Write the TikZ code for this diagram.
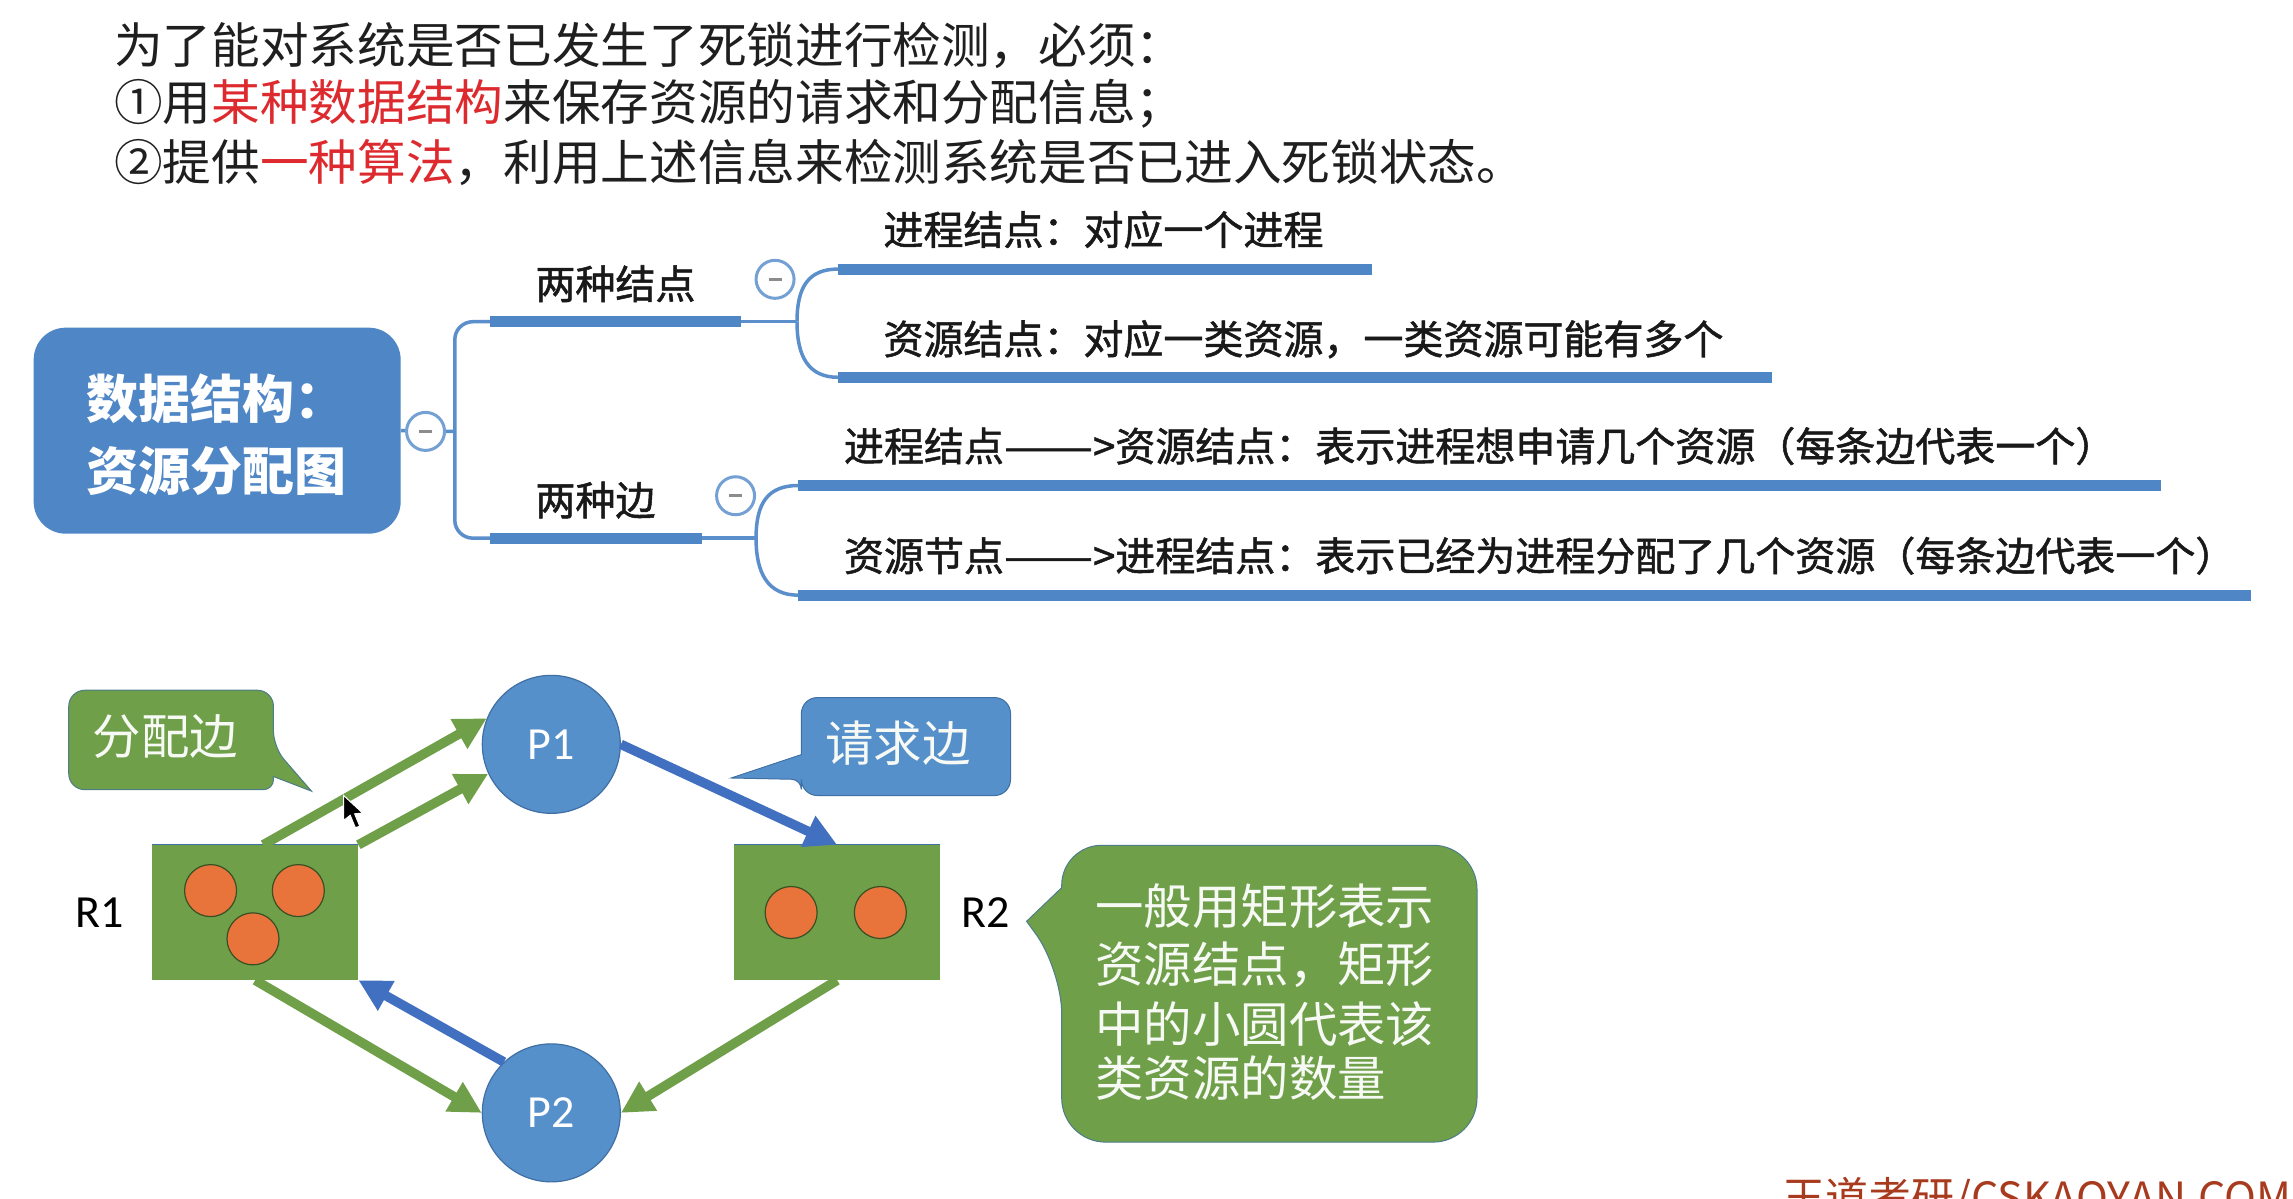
\documentclass[tikz,border=0pt]{standalone}
\usepackage{fontspec}
\usepackage{graphicx}
\usetikzlibrary{arrows.meta}
\setmainfont{Noto Sans CJK SC}
\newfontfamily\medcjk[FakeBold=1.3]{Noto Sans CJK SC}
\newfontfamily\latfont{Carlito}
\definecolor{mapblue}{HTML}{4F86C6}
\definecolor{thinblue}{HTML}{5B8FCC}
\definecolor{grn}{HTML}{6F9F48}
\definecolor{circblue}{HTML}{5590CB}
\definecolor{circedge}{HTML}{3F6FA3}
\definecolor{arrblue}{HTML}{4270C0}
\definecolor{org}{HTML}{E8743B}
\definecolor{txtred}{HTML}{DD2A2E}
\definecolor{wm}{HTML}{A83A1E}
\newcommand{\longdash}{\scalebox{1.33}[1]{——}}
\tikzset{
  topline/.style={anchor=west,inner sep=0pt,text=black!88,font=\fontsize{48.65}{56}\selectfont},
  maptext/.style={anchor=west,inner sep=0pt,text=black!90,font=\medcjk\fontsize{40}{48}\selectfont},
  rootbox/.style={draw=none,fill=mapblue,rounded corners=32pt,minimum width=367pt,minimum height=206pt,inner sep=0pt},
  roottext/.style={anchor=west,inner sep=0pt,text=white,font=\bfseries\fontsize{52}{60}\selectfont},
  under/.style={draw=mapblue,line width=11pt},
  thinline/.style={draw=thinblue,line width=3.5pt},
  togglemark/.style={circle,draw=thinblue!85,fill=white,line width=3pt,minimum size=38pt,inner sep=0pt,text=black!45},
  procnode/.style={circle,fill=circblue,draw=circedge,line width=1.2pt,minimum size=138pt,inner sep=0pt,text=white,font=\latfont\fontsize{46}{50}\selectfont},
  resbox/.style={rectangle,fill=grn,draw=none,minimum width=206pt,minimum height=135pt,inner sep=0pt},
  unitdot/.style={circle,fill=org,draw=black!50!grn,line width=1.2pt,minimum size=52pt,inner sep=0pt},
  reslabel/.style={inner sep=0pt,text=black,font=\latfont\fontsize{46}{50}\selectfont},
  greenarrow/.style={draw=grn,line width=9.5pt,-{Triangle[length=32pt,width=32pt,fill=grn]}},
  bluearrow/.style={draw=arrblue,line width=9.5pt,-{Triangle[length=32pt,width=32pt,fill=arrblue]}},
  callgreen/.style={fill=grn,draw=circedge!70!grn,line width=1pt},
  callblue/.style={fill=circblue,draw=circedge,line width=1pt},
  calltext/.style={inner sep=0pt,text=white!94!grn,font=\fontsize{48.4}{56}\selectfont},
}
\begin{document}
\begin{tikzpicture}[x=1.4624pt,y=-1.4624pt]
\clip (0,0) rectangle (1568,819.9);
\fill[white] (0,0) rectangle (1568,819.9);
% top text
\node[topline] (t1) at (78,31) {为了能对系统是否已发生了死锁进行检测，必须：};
\node[topline] (t2) at (78,71) {①用\textcolor{txtred}{某种数据结构}来保存资源的请求和分配信息；};
\node[topline] (t3) at (78,111) {②提供\textcolor{txtred}{一种算法}，利用上述信息来检测系统是否已进入死锁状态。};
% mind map
\coordinate (a1) at (335,220); \coordinate (b1) at (507,220);
\coordinate (a2) at (335,368); \coordinate (b2) at (480,368);
\coordinate (j1) at (545,220); \coordinate (j2) at (517,368);
\coordinate (u1) at (573,184); \coordinate (v1) at (938,184);
\coordinate (u2) at (573,258); \coordinate (v2) at (1212,258);
\coordinate (u3) at (546,332); \coordinate (v3) at (1478,332);
\coordinate (u4) at (546,407); \coordinate (v4) at (1539,407);
\coordinate (bend1) at (311,220); \coordinate (bend2) at (311,368); \coordinate (mid) at (311,295);
\node[rootbox] (root) at (148.5,294.5) {};
\node[roottext] (rt1) at (59,273) {数据结构：};
\node[roottext] (rt2) at (59,322) {资源分配图};
\draw[thinline,rounded corners=18pt] (a1) -- (bend1) -- (bend2) -- (a2);
\draw[thinline] (root.east) -- (mid);
\draw[under] (a1) -- (b1);
\draw[under] (a2) -- (b2);
\draw[thinline] (b1) -- (j1);
\draw[thinline] (b2) -- (j2);
\draw[thinline] (j1) .. controls (545,196) and (553,184) .. (u1);
\draw[thinline] (j1) .. controls (545,244) and (553,258) .. (u2);
\draw[thinline] (j2) .. controls (517,344) and (525,332) .. (u3);
\draw[thinline] (j2) .. controls (517,392) and (525,407) .. (u4);
\draw[under] (u1) -- (v1);
\draw[under] (u2) -- (v2);
\draw[under] (u3) -- (v3);
\draw[under] (u4) -- (v4);
\node[togglemark] (m0) at (291,295) {\rule{13pt}{3.5pt}};
\node[togglemark] (m1) at (530,191) {\rule{13pt}{3.5pt}};
\node[togglemark] (m2) at (503,339) {\rule{13pt}{3.5pt}};
\node[maptext] (k1) at (366,194) {两种结点};
\node[maptext] (k2) at (366,342) {两种边};
\node[maptext] (l1) at (604,157) {进程结点：对应一个进程};
\node[maptext] (l2) at (604,232) {资源结点：对应一类资源，一类资源可能有多个};
\node[maptext] (l3) at (577,305) {进程结点\longdash>资源结点：表示进程想申请几个资源（每条边代表一个）};
\node[maptext] (l4) at (577,380) {资源节点\longdash>进程结点：表示已经为进程分配了几个资源（每条边代表一个）};
% graph
\node[procnode] (P1) at (377,509) {P1};
\node[procnode] (P2) at (377,761) {P2};
\node[resbox] (R1) at (174.5,624) {};
\node[resbox] (R2) at (572.5,624) {};
\draw[circedge,line width=1pt] (R1.north west) -- (R1.north east);
\draw[circedge,line width=1pt] (R2.north west) -- (R2.north east);
\draw[greenarrow] ([xshift=8pt]R1.north) -- (P1.158);
\draw[greenarrow] (R1.north east) -- (P1.205);
\draw[bluearrow] (P1.east) -- (R2.north);
\draw[bluearrow] (P2.133) -- (R1.south east);
\draw[greenarrow] (R1.south) -- (P2.west);
\draw[greenarrow] (R2.south) -- (P2.east);
\node[unitdot] (d1) at (144,609) {};
\node[unitdot] (d2) at (204,609) {};
\node[unitdot] (d3) at (173,642) {};
\node[unitdot] (d4) at (541,624) {};
\node[unitdot] (d5) at (602,624) {};
\node[reslabel] (R1t) at (68,624) {R1};
\node[reslabel] (R2t) at (674,624) {R2};
% callouts
\draw[callgreen,rounded corners=16pt] (100,472) -- (187,472) -- (187,511) [sharp corners] -- (213,541) -- (187,531) [rounded corners=10pt] -- (187,540) [rounded corners=16pt] -- (47,540) -- (47,472) -- cycle;
\node[calltext] (c1) at (113,504) {分配边};
\draw[callblue,rounded corners=16pt] (620,477) -- (691,477) -- (691,544) -- (548,544) [rounded corners=10pt] -- (548,533) [sharp corners] -- (500,532) -- (548,516) [rounded corners=16pt] -- (548,477) -- cycle;
\node[calltext] (c2) at (614,508) {请求边};
\draw[callgreen,rounded corners=44pt] (860,578) -- (1010,578) -- (1010,781) -- (726,781) -- (726,663) [sharp corners] -- (702,630) -- (726,607) [rounded corners=40pt] -- (726,578) -- cycle;
\node[calltext,anchor=west] (c3) at (749,620) {一般用矩形表示};
\node[calltext,anchor=west] (c4) at (749,660) {资源结点，矩形};
\node[calltext,anchor=west] (c5) at (749,700) {中的小圆代表该};
\node[calltext,anchor=west] (c6) at (749,737) {类资源的数量};
% cursor
\draw[fill=black,draw=white,line width=1pt] (235,544) -- (235,561) -- (239.5,557.5) -- (243,566) -- (246,565) -- (242.5,556.5) -- (248,556) -- cycle;
% watermark
\node[anchor=west,inner sep=0pt,text=wm,font=\fontsize{43}{50}\selectfont] (wmark) at (1219,820) {王道考研/CSKAOYAN.COM};
\end{tikzpicture}
\end{document}
